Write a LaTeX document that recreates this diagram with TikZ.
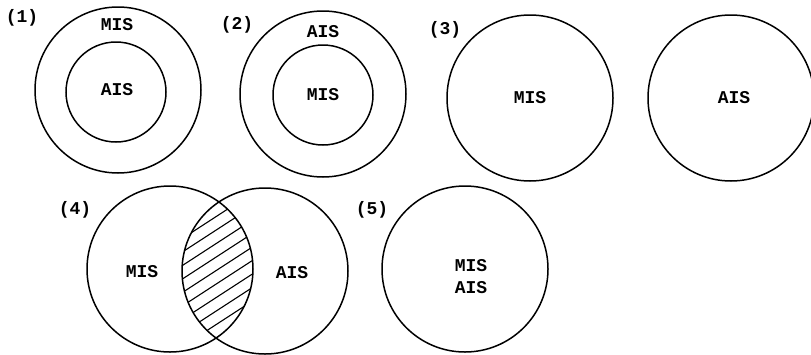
\documentclass[tikz,border=0pt]{standalone}
\usepackage{fontspec}
\setmonofont{Liberation Mono}
\usetikzlibrary{positioning}
\tikzset{
  bigset/.style={circle,draw,line width=1.5pt,inner sep=0pt,minimum size=166pt},
  smallset/.style={bigset,minimum size=100pt},
  lbl/.style={font=\ttfamily\bfseries\fontsize{18}{22}\selectfont,inner sep=0pt,align=center},
  hatch/.style={line width=1.1pt}
}

\begin{document}
\begin{tikzpicture}[x=1pt,y=-1pt]
\useasboundingbox (0,0) rectangle (811,354);
% (1) AIS inside MIS
\node[lbl] (n1) at (22,18) {(1)};
\node[bigset] (mis1) at (118,90) {};
\node[smallset] (ais1) at (116,92) {};
\node[lbl] (tmis1) at (117,25) {MIS};
\node[lbl] (tais1) at (117,90) {AIS};
% (2) MIS inside AIS
\node[lbl] (n2) at (237,25) {(2)};
\node[bigset] (ais2) at (323,94) {};
\node[smallset] (mis2) at (323,95) {};
\node[lbl] (tais2) at (323,32) {AIS};
\node[lbl] (tmis2) at (323,95) {MIS};
% (3) disjoint
\node[lbl] (n3) at (445,30) {(3)};
\node[bigset] (mis3) at (530,98) {};
\node[bigset] (ais3) at (731,98) {};
\node[lbl] (tmis3) at (530,98) {MIS};
\node[lbl] (tais3) at (734,98) {AIS};
% (4) overlap
\node[lbl] (n4) at (75,210) {(4)};
\begin{scope}
  \clip (170,269) circle (83pt);
  \clip (265,271) circle (83pt);
  \foreach \k in {-8,...,8}
    \draw[hatch] (117,{335+13.5*(\k)}) -- (317,{205+13.5*(\k)});
\end{scope}
\node[bigset] (mis4) at (170,269) {};
\node[bigset] (ais4) at (265,271) {};
\node[lbl] (tmis4) at (142,272) {MIS};
\node[lbl] (tais4) at (292,273) {AIS};
% (5) identical
\node[lbl] (n5) at (372,210) {(5)};
\node[bigset] (set5) at (465,269) {};
\node[lbl] (tset5) at (471,277) {MIS\\AIS};
\end{tikzpicture}
\end{document}
